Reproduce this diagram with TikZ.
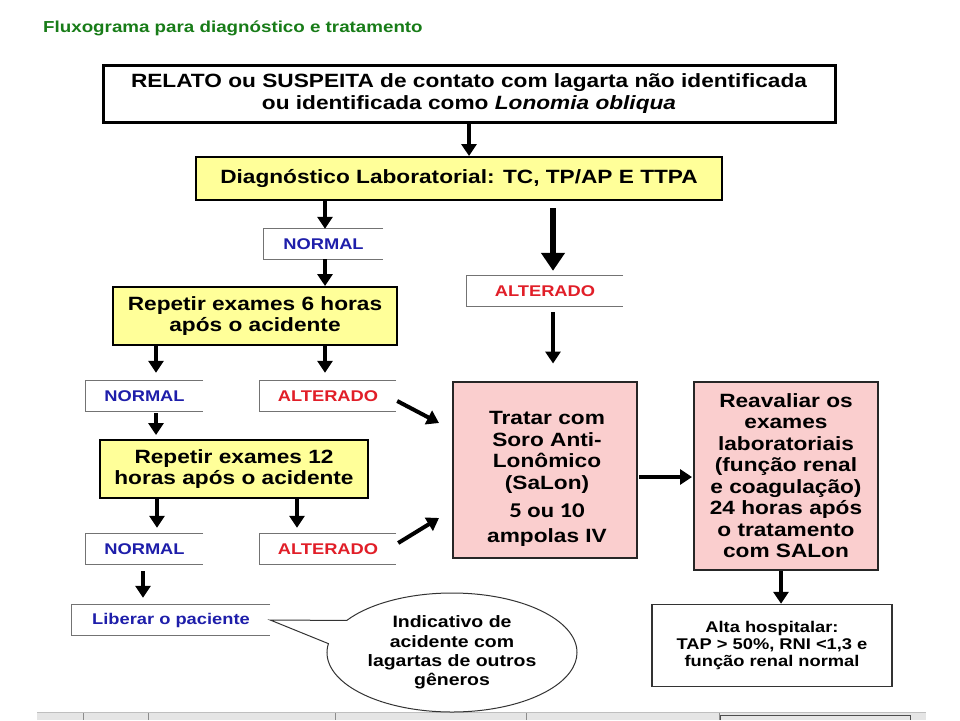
\documentclass[tikz,border=0pt]{standalone}
\usepackage{fontspec}
\setmainfont{Liberation Sans}[FakeStretch=1.18]
\newfontfamily\carl{Carlito}[FakeStretch=1.18]
\usetikzlibrary{arrows.meta,shapes.callouts,shapes.geometric,calc}
\definecolor{boxyellow}{RGB}{255,255,153}
\definecolor{boxpink}{RGB}{250,206,206}
\definecolor{titlegreen}{RGB}{24,124,24}
\definecolor{lblblue}{RGB}{30,30,170}
\definecolor{lblred}{RGB}{225,30,40}
\begin{document}
\begin{tikzpicture}[x=1pt,y=-1pt,
  txt/.style={font=\bfseries\fontsize{19.2}{21.5}\selectfont, align=center},
  box/.style={draw=black, line width=2pt, inner sep=0pt, txt},
  ybox/.style={box, fill=boxyellow},
  pbox/.style={box, fill=boxpink, draw=black!85},
  lbl/.style={inner sep=0pt, font=\bfseries\fontsize{15.5}{17}\selectfont},
  arr/.style={line width=4pt, -{Triangle[width=15pt,length=12pt]}},
  bigarr/.style={line width=6.5pt, -{Triangle[width=23pt,length=18pt]}},
  lline/.style={draw=black!55, line width=1pt},
]
\useasboundingbox (0,0) rectangle (960,720);
\fill[white] (0,0) rectangle (960,720);

% bottom strip
\fill[black!10] (37,712) rectangle (926,720);
\draw[black!25, line width=0.8pt] (37,712) -- (926,712);
\foreach \xx in {83,148,335,526,719} \draw[black!45, line width=0.8pt] (\xx,713) -- (\xx,720);
\draw[black!70, line width=1pt] (720,720) -- (720,715) -- (910,715) -- (910,720);

% x positions for connectors
\coordinate (x143) at (143,0);
\coordinate (x156) at (156,0);
\coordinate (x157) at (157,0);
\coordinate (x297) at (297,0);
\coordinate (x325) at (325,0);
\coordinate (x553) at (553,0);
\coordinate (x781) at (781,0);

% title
\node[anchor=west, text=titlegreen, inner sep=0pt, font=\bfseries\fontsize{15.9}{18}\selectfont] (title) at (43,28) {Fluxograma para diagnóstico e tratamento};

% main boxes
\node[box, line width=3pt, minimum width=732pt, minimum height=57pt] (b1) at (469,93.5) {RELATO ou SUSPEITA de contato com lagarta não identificada\\ou identificada como \textit{Lonomia obliqua}};
\node[ybox, minimum width=526pt, minimum height=43pt] (b2) at (459,178.5) {Diagnóstico Laboratorial: TC, TP/AP E TTPA};
\node[ybox, minimum width=284pt, minimum height=58pt] (r6) at (255,316) {Repetir exames 6 horas\\após o acidente};
\node[ybox, minimum width=268pt, minimum height=58pt] (r12) at (234,469) {Repetir exames 12\\horas após o acidente};

\node[pbox, minimum width=184pt, minimum height=176pt] (trt) at (545,469.5) {};
\node[txt, inner sep=0pt] (trtt) at (547,479) {Tratar com\\Soro Anti-\\Lonômico\\(SaLon)\\[6.5pt]{\carl\fontsize{21}{21.5}\selectfont 5 ou 10}\\[3.5pt]ampolas IV};

\node[pbox, minimum width=184pt, minimum height=188pt] (rev) at (786,475.5) {Reavaliar os\\exames\\laboratoriais\\(função renal\\e coagulação)\\24 horas após\\o tratamento\\com SALon};

\node[draw=black!80, line width=1.5pt, inner sep=0pt, minimum width=240pt, minimum height=82pt, font=\bfseries\fontsize{15.5}{17}\selectfont, align=center] (alta) at (772,645.5) {Alta hospitalar:\\TAP > 50\%, RNI <1,3 e\\função renal normal};

% labels
\node[lbl, text=lblblue, minimum width=119pt, minimum height=30pt] (n1) at (323.5,244) {NORMAL};
\node[lbl, text=lblred, minimum width=156pt, minimum height=30pt] (alt2) at (545,291) {ALTERADO};
\node[lbl, text=lblblue, minimum width=117pt, minimum height=30pt] (n2) at (144.5,396) {NORMAL};
\node[lbl, text=lblred, minimum width=136pt, minimum height=30pt] (alt3) at (328,396) {ALTERADO};
\node[lbl, text=lblblue, minimum width=117pt, minimum height=30pt] (n3) at (144.5,549) {NORMAL};
\node[lbl, text=lblred, minimum width=136pt, minimum height=30pt] (alt4) at (328,549) {ALTERADO};
\node[lbl, text=lblblue, minimum width=198pt, minimum height=30pt] (lib) at (171,620) {Liberar o paciente};
\foreach \n in {n1,alt2,n2,alt3,n3,alt4,lib}
  \draw[lline] (\n.north east) -- (\n.north west) -- (\n.south west) -- (\n.south east);

% callout
\node[ellipse callout, draw=black!80, line width=1pt, fill=white, minimum width=250pt, minimum height=119pt, inner sep=0pt, callout absolute pointer={(lib.east)}, callout pointer arc=24, font=\bfseries\fontsize{16.5}{19.3}\selectfont, align=center] (bub) at (452,652.5) {Indicativo de\\acidente com\\lagartas de outros\\gêneros};

% connectors
\draw[arr] (b1.south) -- (b1.south |- b2.north);
\draw[arr] (b2.south -| x325) -- (x325 |- n1.north);
\draw[arr] (n1.south -| x325) -- (x325 |- r6.north);
\draw[bigarr, shorten <=7pt, shorten >=5pt] (b2.south -| x553) -- (x553 |- alt2.north);
\draw[arr, shorten <=6pt, shorten >=17pt] (alt2.south -| x553) -- (x553 |- trt.north);
\draw[arr, shorten >=8pt] (r6.south -| x156) -- (x156 |- n2.north);
\draw[arr, shorten >=8pt] (r6.south -| x325) -- (x325 |- alt3.north);
\draw[arr, shorten <=2pt, shorten >=4pt] (n2.south -| x156) -- (x156 |- r12.north);
\draw[arr, shorten >=6pt] (r12.south -| x157) -- (x157 |- n3.north);
\draw[arr, shorten >=6pt] (r12.south -| x297) -- (x297 |- alt4.north);
\draw[arr, shorten <=7pt, shorten >=7pt] (n3.south -| x143) -- (x143 |- lib.north);
\draw[arr] ($(alt3.east)+(1,5)$) -- ($(trt.west)+(-13,-46.5)$);
\draw[arr] ($(alt4.east)+(2,-6)$) -- ($(trt.west)+(-13,48.5)$);
\draw[arr] ($(trt.east)+(1,7.5)$) -- ($(rev.west)+(-1,1.5)$);
\draw[arr] (rev.south -| x781) -- (x781 |- alta.north);
\end{tikzpicture}
\end{document}
